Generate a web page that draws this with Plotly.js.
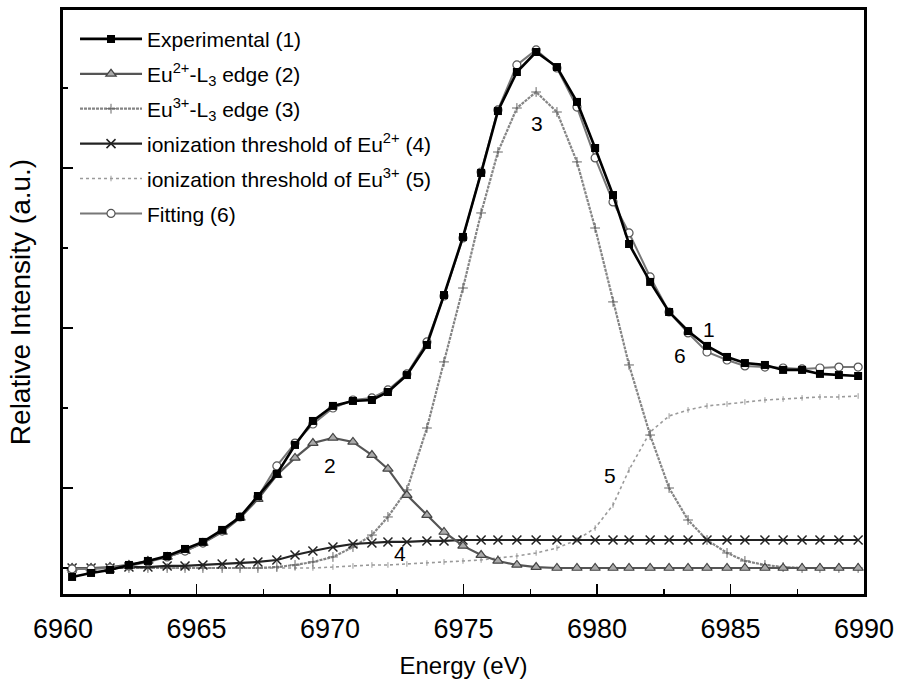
<!DOCTYPE html>
<html>
<head>
<meta charset="utf-8">
<script src="https://cdn.plot.ly/plotly-3.0.1.min.js"></script>
<style>html,body{margin:0;padding:0;background:#fff;}#chart{width:899px;height:686px;}</style>
</head>
<body>
<div id="chart"></div>
<script>
// Photon energy (eV)
const energy = [6960.34, 6961.05, 6961.76, 6962.47, 6963.18, 6963.90, 6964.57, 6965.24, 6965.96, 6966.63,
  6967.30, 6968.01, 6968.69, 6969.36, 6970.11, 6970.86, 6971.57, 6972.17, 6972.88, 6973.63,
  6974.27, 6974.98, 6975.66, 6976.29, 6977.00, 6977.72, 6978.50, 6979.25, 6979.93, 6980.60,
  6981.20, 6981.99, 6982.70, 6983.41, 6984.12, 6984.87, 6985.54, 6986.29, 6986.97, 6987.68,
  6988.35, 6989.06, 6989.78];

// (1) Experimental
const experimental = [0.444, 0.469, 0.488, 0.519, 0.544, 0.575, 0.619, 0.663, 0.738, 0.819,
  0.950, 1.088, 1.269, 1.419, 1.513, 1.544, 1.550, 1.600, 1.706, 1.894,
  2.206, 2.569, 2.969, 3.356, 3.600, 3.725, 3.631, 3.413, 3.125, 2.831,
  2.525, 2.288, 2.100, 1.981, 1.888, 1.819, 1.781, 1.769, 1.738, 1.738,
  1.713, 1.706, 1.700];

// (2) Eu2+ L3 edge
const eu2Edge = [0.500, 0.500, 0.506, 0.519, 0.544, 0.569, 0.606, 0.656, 0.725, 0.813,
  0.931, 1.081, 1.188, 1.281, 1.313, 1.288, 1.206, 1.119, 0.956, 0.831,
  0.725, 0.638, 0.581, 0.544, 0.519, 0.506, 0.500, 0.500, 0.500, 0.500,
  0.500, 0.500, 0.500, 0.500, 0.500, 0.500, 0.500, 0.500, 0.500, 0.500,
  0.500, 0.500, 0.500];

// (3) Eu3+ L3 edge
const eu3Edge = [0.500, 0.500, 0.500, 0.500, 0.500, 0.500, 0.500, 0.500, 0.500, 0.500,
  0.500, 0.506, 0.519, 0.538, 0.569, 0.631, 0.706, 0.819, 0.988, 1.375,
  1.788, 2.250, 2.719, 3.100, 3.375, 3.475, 3.350, 3.038, 2.625, 2.163,
  1.769, 1.331, 1.000, 0.800, 0.675, 0.594, 0.544, 0.519, 0.506, 0.500,
  0.500, 0.500, 0.500];

// (4) ionization threshold of Eu2+
const ion2 = [0.500, 0.500, 0.500, 0.506, 0.506, 0.513, 0.513, 0.519, 0.525, 0.531,
  0.538, 0.550, 0.581, 0.606, 0.631, 0.650, 0.656, 0.663, 0.663, 0.669,
  0.669, 0.675, 0.675, 0.675, 0.675, 0.675, 0.675, 0.675, 0.675, 0.675,
  0.675, 0.675, 0.675, 0.675, 0.675, 0.675, 0.675, 0.675, 0.675, 0.675,
  0.675, 0.675, 0.675];

// (5) ionization threshold of Eu3+
const ion3 = [0.500, 0.500, 0.500, 0.500, 0.500, 0.500, 0.500, 0.500, 0.500, 0.500,
  0.500, 0.500, 0.500, 0.500, 0.506, 0.513, 0.519, 0.519, 0.525, 0.531,
  0.538, 0.544, 0.550, 0.563, 0.575, 0.594, 0.625, 0.675, 0.750, 0.894,
  1.113, 1.350, 1.450, 1.488, 1.513, 1.525, 1.538, 1.550, 1.556, 1.563,
  1.569, 1.569, 1.575];

// (6) Fitting
const fitting = [0.494, 0.494, 0.500, 0.513, 0.538, 0.569, 0.606, 0.656, 0.731, 0.819,
  0.944, 1.138, 1.281, 1.400, 1.500, 1.550, 1.563, 1.613, 1.713, 1.913,
  2.200, 2.563, 2.975, 3.363, 3.644, 3.738, 3.625, 3.381, 3.063, 2.788,
  2.594, 2.319, 2.100, 1.969, 1.850, 1.800, 1.763, 1.756, 1.750, 1.744,
  1.750, 1.756, 1.756];

const seriesNames = [
  'Experimental (1)',
  'Eu<sup>2+</sup>-L<sub>3</sub> edge (2)',
  'Eu<sup>3+</sup>-L<sub>3</sub> edge (3)',
  'ionization threshold of Eu<sup>2+</sup> (4)',
  'ionization threshold of Eu<sup>3+</sup> (5)',
  'Fitting (6)'
];

// curve number labels
const labelText = ['1', '6', '2', '3', '4', '5'];
const labelX = [6984.2, 6983.1, 6970.0, 6977.75, 6972.62, 6980.49];
const labelY = [1.99, 1.83, 1.14, 3.28, 0.59, 1.08];

const FONT = 'Arial, "Liberation Sans", Helvetica, sans-serif';

const traces = [
  {x: energy, y: ion3, name: seriesNames[4], legendrank: 5, legendgroup: 'g5', mode: 'lines+markers',
   line: {color: '#9a9a9a', width: 1.6, dash: 'dot'},
   marker: {symbol: 'line-ns-open', size: 4, color: '#999', line: {color: '#999', width: 1}}},
  {x: energy, y: eu3Edge, name: seriesNames[2], legendrank: 3, legendgroup: 'g3', mode: 'lines+markers',
   line: {color: '#858585', width: 2.2, dash: '3px,1px'},
   marker: {symbol: 'cross-thin-open', size: 7, color: '#666', line: {color: '#666', width: 1}}},
  {x: energy, y: ion2, name: seriesNames[3], legendrank: 4, legendgroup: 'g4', mode: 'lines+markers',
   line: {color: '#222', width: 2.2},
   marker: {symbol: 'x-thin-open', size: 9, color: '#222', line: {color: '#222', width: 1.5}}},
  {x: energy, y: eu2Edge, name: seriesNames[1], legendrank: 2, legendgroup: 'g2', mode: 'lines+markers',
   line: {color: '#555', width: 2.2},
   marker: {symbol: 'triangle-up', size: 9, color: '#aaa', line: {color: '#444', width: 1.2}}},
  {x: energy, y: fitting, name: seriesNames[5], legendrank: 6, legendgroup: 'g6', mode: 'lines+markers',
   line: {color: '#777', width: 2},
   marker: {symbol: 'circle', size: 8, color: '#fff', line: {color: '#555', width: 1.2}}},
  {x: energy, y: experimental, name: seriesNames[0], legendrank: 1, legendgroup: 'g1', mode: 'lines+markers',
   line: {color: '#000', width: 2.6},
   marker: {symbol: 'square', size: 8, color: '#000'}}
];

const annotations = labelText.map((t, i) => ({
  x: labelX[i], y: labelY[i], xref: 'x', yref: 'y', text: t, showarrow: false,
  font: {family: FONT, size: 21, color: '#000'}
}));

const layout = {
  width: 899, height: 686,
  margin: {l: 63, r: 35, t: 10, b: 92},
  paper_bgcolor: '#fff', plot_bgcolor: '#fff',
  font: {family: FONT, color: '#000'},
  showlegend: true,
  legend: {
    x: 0.015, y: 0.985, xanchor: 'left', yanchor: 'top',
    bgcolor: 'rgba(0,0,0,0)', borderwidth: 0,
    font: {family: FONT, size: 21, color: '#000'},
    itemwidth: 62, traceorder: 'grouped', tracegroupgap: 4.6
  },
  xaxis: {
    range: [6960, 6990], tick0: 6960, dtick: 5,
    ticks: 'inside', ticklen: 10, tickwidth: 1.5, tickcolor: '#000',
    minor: {dtick: 2.5, ticks: 'inside', ticklen: 5, tickwidth: 1.5, tickcolor: '#000'},
    showline: true, linecolor: '#000', linewidth: 2.8, mirror: true,
    showgrid: false, zeroline: false,
    tickfont: {family: FONT, size: 27, color: '#000'},
    ticklabelstandoff: 9,
    title: {text: 'Energy (eV)', font: {family: FONT, size: 24, color: '#000'}, standoff: 14}
  },
  yaxis: {
    range: [0.3375, 3.9875], tick0: 0, dtick: 1,
    ticks: 'inside', ticklen: 10, tickwidth: 1.5, tickcolor: '#000',
    minor: {dtick: 0.5, ticks: 'inside', ticklen: 5, tickwidth: 1.5, tickcolor: '#000'},
    showticklabels: false,
    showline: true, linecolor: '#000', linewidth: 2.8, mirror: true,
    showgrid: false, zeroline: false,
    title: {text: 'Relative Intensity (a.u.)', font: {family: FONT, size: 28, color: '#000'}, standoff: 22}
  },
  annotations: annotations
};

Plotly.newPlot('chart', traces, layout, {displayModeBar: false, staticPlot: true});
</script>
</body>
</html>
